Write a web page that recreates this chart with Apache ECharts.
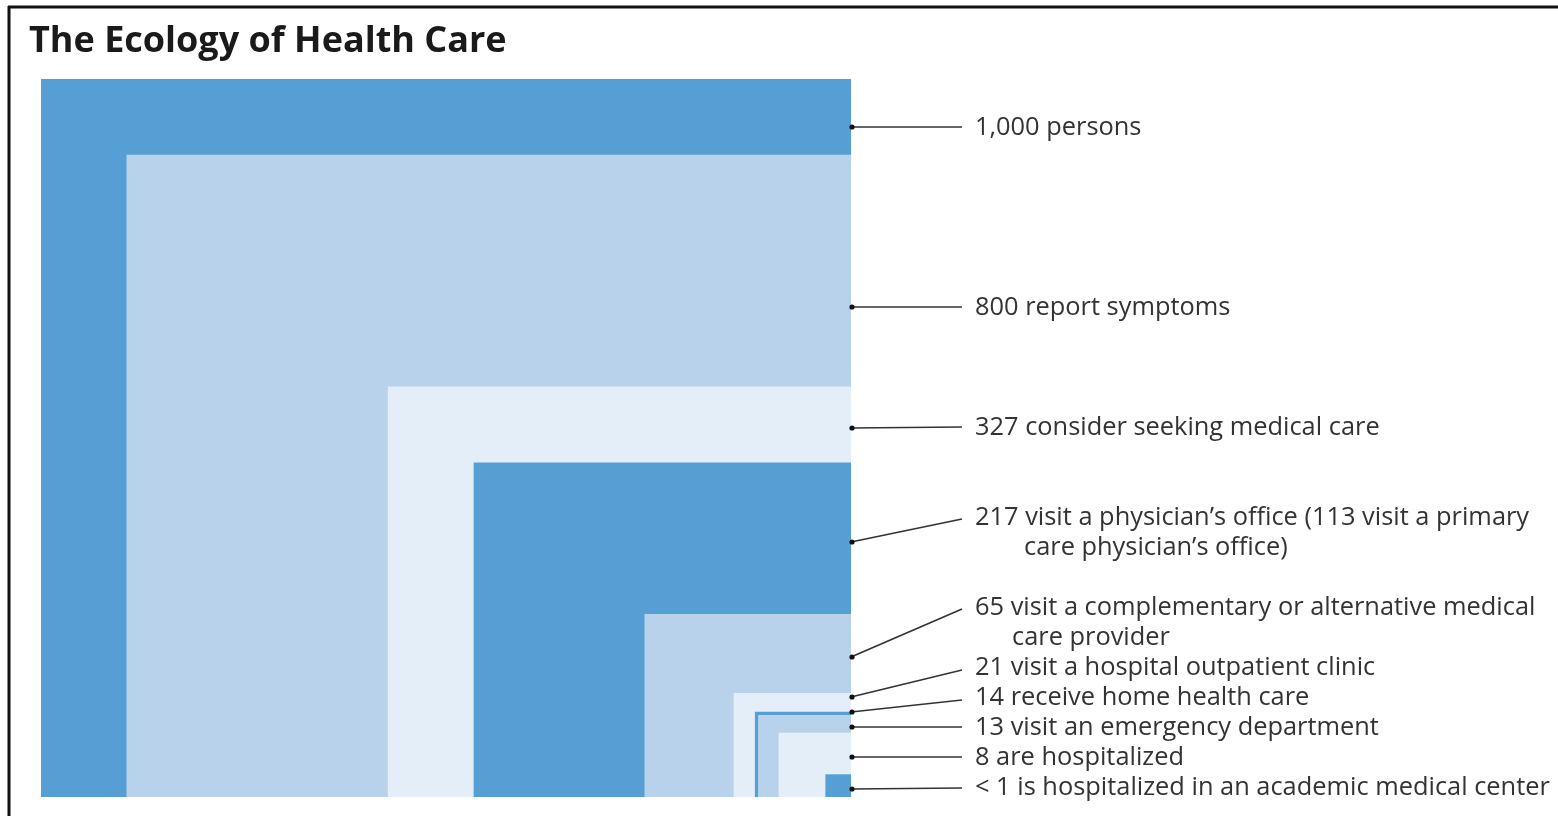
<!DOCTYPE html>
<html><head><meta charset="utf-8">
<script src="https://cdn.jsdelivr.net/npm/echarts@6/dist/echarts.min.js"></script>
<style>html,body{margin:0;padding:0;background:#fff}#c{width:1558px;height:816px}</style>
</head><body><div id="c"></div>
<script>
// ---- data ----
const TOTAL = 1000;
const values = [1000, 800, 327, 217, 65, 21, 14, 13, 8, 1];
const labelLines = [
  ['1,000 persons'],
  ['800 report symptoms'],
  ['327 consider seeking medical care'],
  ['217 visit a physician\u2019s office (113 visit a primary', 'care physician\u2019s office)'],
  ['65 visit a complementary or alternative medical', 'care provider'],
  ['21 visit a hospital outpatient clinic'],
  ['14 receive home health care'],
  ['13 visit an emergency department'],
  ['8 are hospitalized'],
  ['< 1 is hospitalized in an academic medical center']
];
const title = 'The Ecology of Health Care';

// ---- styles / layout ----
const DARK = '#569fd5', LIGHT = '#b9d2eb', PALE = '#e4eef8';
const fills = [DARK, LIGHT, PALE, DARK, LIGHT, PALE, null, LIGHT, PALE, DARK];
const anchorY = [127, 307, 428, 542, 657, 697, 712, 727, 757, 789]; // leader dot y (px)
const textY = [128, 308, 428, 518, 608, 668, 698, 728, 758, 788];   // first text line y (px)
const lineEndY = [127, 307, 427, 519, 609, 670, 700, 727, 757, 788];
const indent = [0, 0, 0, 49, 37, 0, 0, 0, 0, 0];
const FONT = '"Open Sans", sans-serif';

const chart = echarts.init(document.getElementById('c'), null, {renderer: 'canvas'});
chart.setOption({
  animation: false,
  title: {text: title, left: 24, top: 19,
    textStyle: {fontFamily: FONT, fontSize: 36, fontWeight: 'bold', color: '#1a1a1a'}},
  grid: {left: 41, top: 79, width: 810, height: 718},
  xAxis: {type: 'value', min: 0, max: 1, show: false},
  yAxis: {type: 'value', min: 0, max: 1, show: false},
  graphic: [
    {type: 'line', shape: {x1: 8, y1: 7, x2: 1558, y2: 7}, style: {stroke: '#111', lineWidth: 3}, z: 100},
    {type: 'line', shape: {x1: 9, y1: 6, x2: 9, y2: 816}, style: {stroke: '#111', lineWidth: 3}, z: 100}
  ],
  series: [
    {
      type: 'custom', coordinateSystem: 'cartesian2d', z: 2,
      data: values.map((v, i) => [v, i]),
      renderItem: function (params, api) {
        const v = api.value(0), i = api.value(1);
        const s = Math.sqrt(v / TOTAL);
        const p0 = api.coord([1 - s, s]);
        const p1 = api.coord([1, 0]);
        const fill = fills[i];
        if (!fill) {
          return {
            type: 'polyline',
            shape: {points: [[p0[0] + 1.5, p1[1]], [p0[0] + 1.5, p0[1] + 1.5], [p1[0], p0[1] + 1.5]]},
            style: {fill: 'none', stroke: DARK, lineWidth: 3.5}
          };
        }
        return {
          type: 'rect',
          shape: {x: p0[0], y: p0[1], width: p1[0] - p0[0], height: p1[1] - p0[1]},
          style: {fill: fill}
        };
      }
    },
    {
      type: 'custom', coordinateSystem: 'cartesian2d', z: 5,
      data: values.map((v, i) => [1, i]),
      renderItem: function (params, api) {
        const i = api.value(1);
        const edgeX = api.coord([1, 0])[0];
        const endX = edgeX + 111;
        const tx = edgeX + 124;
        const children = [
          {type: 'line', shape: {x1: edgeX, y1: anchorY[i], x2: endX, y2: lineEndY[i]},
            style: {stroke: '#333', lineWidth: 1.6}},
          {type: 'circle', shape: {cx: edgeX + 1, cy: anchorY[i], r: 2.6}, style: {fill: '#111'}}
        ];
        labelLines[i].forEach((t, k) => {
          children.push({type: 'text', x: tx + (k ? indent[i] : 0), y: textY[i] + k * 30,
            style: {text: t, fill: '#333', font: '25.4px ' + FONT, textVerticalAlign: 'middle', verticalAlign: 'middle'}});
        });
        return {type: 'group', children: children};
      }
    }
  ]
});
</script></body></html>
